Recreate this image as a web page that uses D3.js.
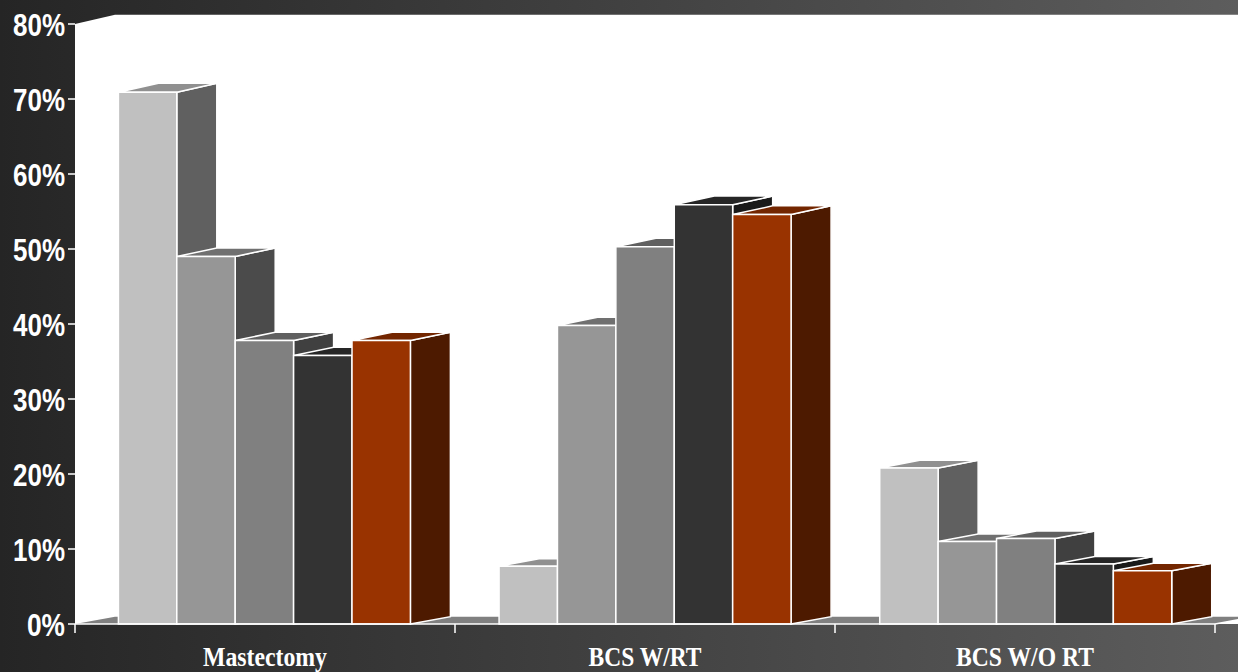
<!DOCTYPE html>
<html><head><meta charset="utf-8">
<script src="https://cdn.jsdelivr.net/npm/d3@7"></script>
<style>html,body{margin:0;padding:0;background:#333}svg{display:block}</style>
</head><body><svg id="c" width="1238" height="672"></svg>
<script>
const categories = ["Mastectomy", "BCS W/RT", "BCS W/O RT"];
const seriesKeys = ["s1", "s2", "s3", "s4", "s5"];
const s1 = [70.9, 7.7, 20.8];
const s2 = [49.0, 39.8, 11.0];
const s3 = [37.8, 50.3, 11.4];
const s4 = [35.8, 55.9, 8.0];
const s5 = [37.8, 54.6, 7.1];
const seriesValues = [s1, s2, s3, s4, s5];
const frontColors = ["#c0c0c0", "#969696", "#808080", "#333333", "#993300"];
const topColors = ["#909090", "#707070", "#606060", "#262626", "#732600"];
const sideColors = ["#606060", "#4b4b4b", "#404040", "#1a1a1a", "#4d1a00"];
const yTicks = [0, 10, 20, 30, 40, 50, 60, 70, 80];
const labelWidths = [124, 113, 138];

const W = 1238, H = 672;
const x0 = 75, x1 = 1215, depth = 40;
const svg = d3.select("#c");
const defs = svg.append("defs");
const g = defs.append("linearGradient").attr("id", "bg");
g.append("stop").attr("offset", "0").attr("stop-color", "#252525");
g.append("stop").attr("offset", "1").attr("stop-color", "#5d5d5d");
svg.append("rect").attr("width", W).attr("height", H).attr("fill", "url(#bg)");

const yFront = d3.scaleLinear().domain([0, 80]).range([624, 24]);
const yBack = d3.scaleLinear().domain([0, 80]).range([616.7, 14.7]);
const xCat = d3.scaleBand().domain(categories).range([x0, x1]);
const xGroup = d3.scaleBand().domain(categories).range([x0, x1 + 2]);
const xBar = d3.scaleBand().domain(seriesKeys).range([43.4, 335.4]);
const line = d3.line();

// back wall
svg.append("path").attr("fill", "#fff").attr("d", line([
  [x0, yFront(0)], [x0, yFront(80)], [x0 + depth, yBack(80)], [W, yBack(80)], [W, yFront(0)]
]) + "Z");
// floor
svg.append("path").attr("fill", "#808080").attr("d", line([
  [x0, yFront(0)], [x0 + depth, yBack(0)], [x1 + depth, yBack(0)], [x1, yFront(0)]
]) + "Z");

// bars
categories.forEach((cat, ci) => {
  seriesKeys.forEach((k, si) => {
    const v = seriesValues[si][ci];
    const a = xGroup(cat) + xBar(k), b = a + xBar.bandwidth();
    const f = yFront(v), bk = yBack(v), f0 = yFront(0), b0 = yBack(0);
    const bar = svg.append("g").attr("stroke", "#fff").attr("stroke-width", 1.5).attr("stroke-linejoin", "miter");
    bar.append("path").attr("fill", sideColors[si]).attr("d", line([[b, f0], [b + depth, b0], [b + depth, bk], [b, f]]) + "Z");
    bar.append("path").attr("fill", topColors[si]).attr("d", line([[a, f], [a + depth, bk], [b + depth, bk], [b, f]]) + "Z");
    bar.append("path").attr("fill", frontColors[si]).attr("d", line([[a, f0], [a, f], [b, f], [b, f0]]) + "Z");
  });
});

// axes
const axisG = svg.append("g").attr("stroke", "#fff").attr("stroke-width", 1.5);
axisG.append("line").attr("x1", x0).attr("x2", x1).attr("y1", yFront(0)).attr("y2", yFront(0));
axisG.append("line").attr("x1", x1).attr("x2", x1 + depth).attr("y1", yFront(0)).attr("y2", yBack(0));
axisG.selectAll(".yt").data(yTicks).join("line")
  .attr("x1", x0 - 7).attr("x2", x0).attr("y1", d => yFront(d)).attr("y2", d => yFront(d));
axisG.selectAll(".xt").data([...categories.map(c => xCat(c)), x1]).join("line")
  .attr("x1", d => d).attr("x2", d => d).attr("y1", yFront(0)).attr("y2", yFront(0) + 9);

// y labels
svg.selectAll(".yl").data(yTicks).join("text")
  .attr("x", 65).attr("y", d => yFront(d) + 12)
  .attr("text-anchor", "end").attr("fill", "#fff")
  .attr("font-family", "'Liberation Sans'").attr("font-weight", "bold").attr("font-size", 32)
  .attr("textLength", d => d === 0 ? 38 : 52).attr("lengthAdjust", "spacingAndGlyphs")
  .text(d => d + "%");

// category labels
svg.selectAll(".xl").data(categories).join("text")
  .attr("x", d => xCat(d) + xCat.bandwidth() / 2).attr("y", 666)
  .attr("text-anchor", "middle").attr("fill", "#fff")
  .attr("font-family", "'Liberation Serif'").attr("font-weight", "bold").attr("font-size", 27.5)
  .attr("textLength", (d, i) => labelWidths[i]).attr("lengthAdjust", "spacingAndGlyphs")
  .text(d => d);
</script></body></html>
